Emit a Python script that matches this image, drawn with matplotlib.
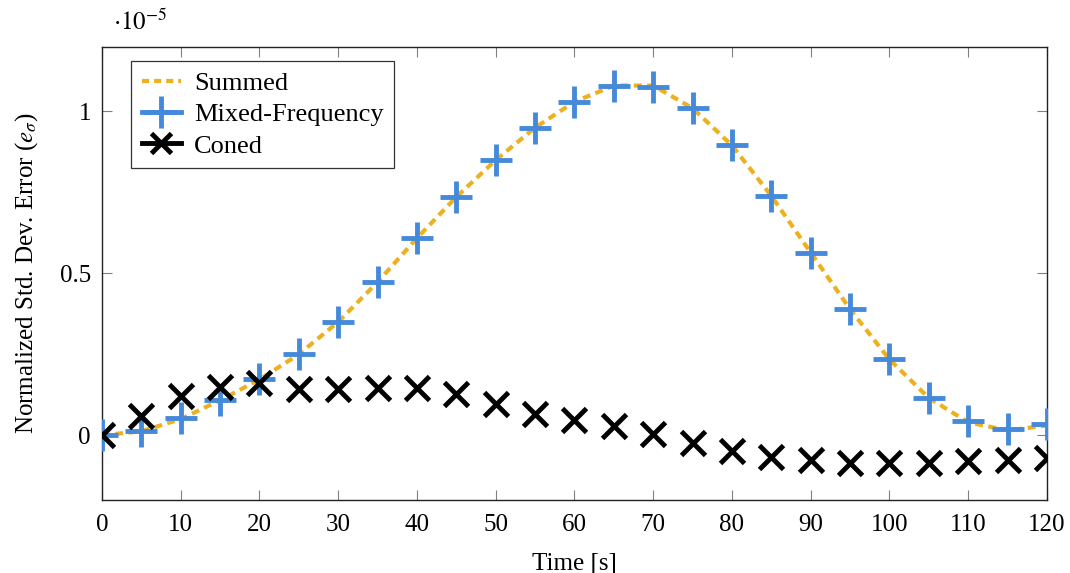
import matplotlib
matplotlib.use("Agg")
import matplotlib.pyplot as plt
from matplotlib.lines import Line2D
from matplotlib.ticker import FixedLocator, FuncFormatter

plt.rcParams['font.family'] = ['Liberation Serif', 'DejaVu Serif']
plt.rcParams['mathtext.fontset'] = 'stix'

# time [s]
time = [0, 5, 10, 15, 20, 25, 30, 35, 40, 45, 50, 55, 60, 65, 70, 75, 80, 85, 90, 95, 100, 105, 110, 115, 120]
# values in units of 1e-6
summed = [0.0, 0.12, 0.50, 1.08, 1.72, 2.50, 3.50, 4.73, 6.09, 7.36, 8.50, 9.50, 10.30, 10.80, 10.80, 10.10,
          8.95, 7.39, 5.64, 3.89, 2.34, 1.15, 0.40, 0.15, 0.30]
mixed = [0.0, 0.14, 0.52, 1.10, 1.73, 2.50, 3.50, 4.73, 6.09, 7.36, 8.50, 9.50, 10.30, 10.80, 10.77, 10.10,
         8.95, 7.39, 5.64, 3.89, 2.34, 1.15, 0.43, 0.19, 0.36]
coned = [0.0, 0.59, 1.21, 1.50, 1.60, 1.44, 1.44, 1.47, 1.47, 1.27, 0.96, 0.67, 0.46, 0.29, 0.03, -0.24,
         -0.49, -0.67, -0.77, -0.85, -0.85, -0.85, -0.80, -0.77, -0.70]
scale = 1e-6

ytick_vals = [0, 0.5e-5, 1e-5]
ytick_labels = ['0', '0.5', '1']
xtick_vals = list(range(0, 121, 10))

c_orange = '#EDB120'
c_blue = '#4589DA'
c_black = '#000000'
fs = 18

fig = plt.figure(figsize=(10.70, 5.73), dpi=100)
ax = fig.add_axes([0.0953, 0.1274, 0.9785 - 0.0953, 0.9185 - 0.1274])

dash = (0, (1.9, 1.3))
ax.plot(time, [v * scale for v in summed], color=c_orange, lw=3.0, ls=dash, zorder=3)
ax.plot(time, [v * scale for v in mixed], ls='none', marker='+', ms=23, mew=3.5, color=c_blue, zorder=4)
ax.plot(time, [v * scale for v in coned], ls='none', marker='x', ms=17, mew=3.5, color=c_black, zorder=5)

ax.set_xlim(0, 120)
ax.set_ylim(-0.2e-5, 1.2e-5)
ax.xaxis.set_major_locator(FixedLocator(xtick_vals))
ax.yaxis.set_major_locator(FixedLocator(ytick_vals))
ax.yaxis.set_major_formatter(FuncFormatter(lambda v, p: ytick_labels[ytick_vals.index(v)] if v in ytick_vals else ''))
ax.tick_params(direction='in', length=7.5, width=0.8, color='#808080', top=True, right=True,
               labelsize=fs)
ax.tick_params(axis='x', pad=10)
ax.tick_params(axis='y', pad=8)
for s in ax.spines.values():
    s.set_linewidth(1.0)
    s.set_color('#222222')

ax.set_xlabel('Time [s]', fontsize=fs, labelpad=12)
ax.set_ylabel(r'Normalized Std. Dev. Error ($e_\sigma$)', fontsize=fs, labelpad=14)
ax.text(0.012, 1.025, r'$\cdot10^{-5}$', transform=ax.transAxes, fontsize=fs, ha='left', va='bottom')

handles = [
    Line2D([], [], color=c_orange, lw=3.0, ls=(0, (1.7, 1.2))),
    Line2D([], [], color=c_blue, lw=3.5, marker='+', ms=23, mew=3.5),
    Line2D([], [], color=c_black, lw=3.5, marker='x', ms=15, mew=3.5),
]
leg = ax.legend(handles, ['Summed', 'Mixed-Frequency', 'Coned'], loc='upper left',
                bbox_to_anchor=(0.0307, 0.969), borderaxespad=0, fontsize=19, frameon=True,
                fancybox=False, framealpha=1, edgecolor='#333333', handlelength=1.5,
                handletextpad=0.5, labelspacing=0.3, borderpad=0.4)
leg.get_frame().set_linewidth(0.9)

fig.savefig('out.png', dpi=100)
